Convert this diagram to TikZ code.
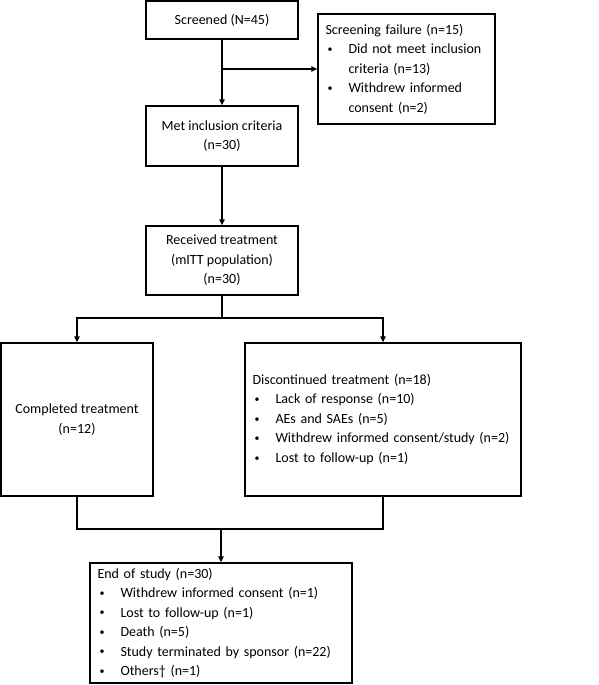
\documentclass[tikz,border=0pt]{standalone}
\usepackage{fontspec}
\setmainfont{Carlito}
\usetikzlibrary{arrows.meta}
\newcommand\bl{\makebox[23pt][l]{\hspace{2pt}\raisebox{1.2pt}{\fontsize{10}{10}\selectfont\textbullet}}}
\newcommand\ind{\hspace*{23pt}}
\begin{document}
\begin{tikzpicture}[x=1pt,y=-1pt,
  box/.style={draw, line width=1.5pt, inner xsep=7.5pt, inner ysep=2pt,
    font=\fontsize{14}{19.5}\selectfont},
  cbox/.style={box, align=center},
  lbox/.style={box, align=left},
  conn/.style={line width=1.4pt},
  arr/.style={conn, -{Triangle[length=6pt,width=5.5pt]}}]
\useasboundingbox (0,0) rectangle (599,685);
\node[cbox, minimum width=152pt, minimum height=38pt] (scr) at (222,20) {Screened (N=45)};
\node[lbox, minimum width=177pt, minimum height=110pt, text width=162pt] (fail) at (406.5,69)
  {Screening failure (n=15)\\ \bl Did not meet inclusion\\ \ind criteria (n=13)\\ \bl Withdrew informed\\ \ind consent (n=2)};
\node[cbox, minimum width=152pt, minimum height=60pt] (met) at (222,136) {Met inclusion criteria\\(n=30)};
\node[cbox, minimum width=152pt, minimum height=69pt] (rec) at (222,260.5) {Received treatment\\(mITT population)\\(n=30)};
\node[cbox, minimum width=152pt, minimum height=153pt] (comp) at (77,419.5) {Completed treatment\\(n=12)};
\node[lbox, minimum width=276pt, minimum height=153pt, text width=261pt] (disc) at (383,419.5)
  {Discontinued treatment (n=18)\\ \bl Lack of response (n=10)\\ \bl AEs and SAEs (n=5)\\ \bl Withdrew informed consent/study (n=2)\\ \bl Lost to follow-up (n=1)};
\node[lbox, minimum width=262pt, minimum height=120pt, text width=247pt] (end) at (221,623)
  {End of study (n=30)\\ \bl Withdrew informed consent (n=1)\\ \bl Lost to follow-up (n=1)\\ \bl Death (n=5)\\ \bl Study terminated by sponsor (n=22)\\ \bl Others\textdagger{} (n=1)};
\coordinate (br) at (222,69);
\coordinate (split) at (222,318);
\coordinate (join) at (221,529);
\draw[arr] (scr) -- (met);
\draw[arr] (br) -- (fail.west);
\draw[arr] (met) -- (rec);
\draw[conn] (rec.south) -- (split);
\draw[arr] (split) -| (comp.north);
\draw[arr] (split) -| (disc.north);
\draw[conn] (comp.south) |- (join) -| (disc.south);
\draw[arr] (join) -- (end.north);
\end{tikzpicture}
\end{document}
